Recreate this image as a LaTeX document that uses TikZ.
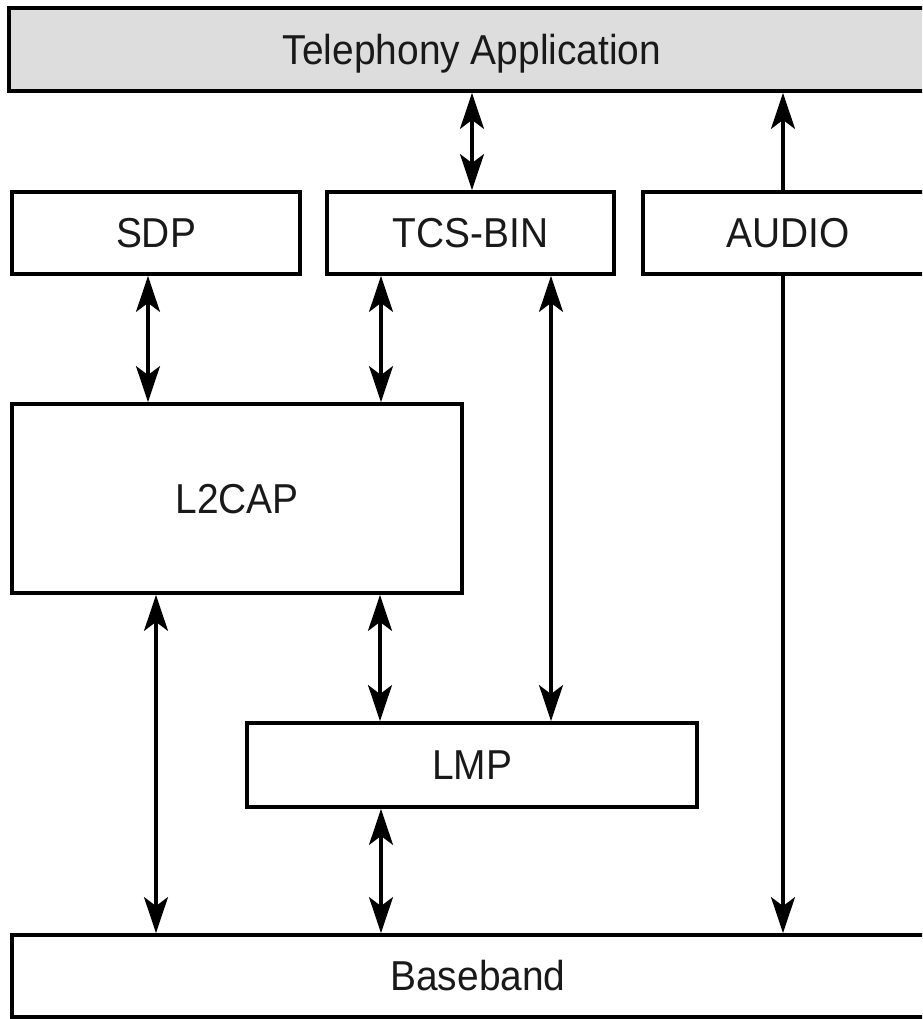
\documentclass[tikz,border=0pt]{standalone}
\usepackage{fontspec}
\setmainfont{Liberation Sans}[FakeStretch=0.93]
\usetikzlibrary{arrows.meta}

\definecolor{telgray}{RGB}{221,221,221}
\newcommand{\lbl}{\fontsize{23.8}{28}\selectfont}

\tikzset{
	blk/.style={draw, line width=2.2pt, inner sep=0pt, text=black!90, font=\lbl,
		text height=0.6cm, text depth=0pt},
	tip/.style={line width=1.8pt, -{Stealth[length=0.72cm, width=0.48cm, inset=0.18cm]}},
	dbl/.style={line width=1.8pt, {Stealth[length=0.72cm, width=0.48cm, inset=0.18cm]}-{Stealth[length=0.72cm, width=0.48cm, inset=0.18cm]}}
}

\begin{document}
\begin{tikzpicture}
	\useasboundingbox (0,0) rectangle (18.44,20.38);
	\clip (0,0) rectangle (18.44,20.38);
	
	% top row
	\node[blk, fill=telgray, minimum width=18.52cm, minimum height=1.66cm] (tel) at (9.44,19.39) {Telephony Application};
	\node[blk, minimum width=5.76cm, minimum height=1.64cm] (sdp) at (3.12,15.72) {SDP};
	\node[blk, minimum width=5.74cm, minimum height=1.64cm] (tcs) at (9.41,15.72) {TCS-BIN};
	\node[blk, minimum width=5.8cm, minimum height=1.64cm] (audio) at (15.76,15.72) {AUDIO};
	
	% lower layers
	\node[blk, minimum width=9cm, minimum height=3.78cm] (l2cap) at (4.74,10.41) {L2CAP};
	\node[blk, minimum width=9cm, minimum height=1.68cm] (lmp) at (9.44,5.08) {LMP};
	\node[blk, minimum width=18.64cm, minimum height=1.64cm] (base) at (9.56,0.86) {Baseband};
	
	% links
	\draw[dbl] (tel.south) -- (tel.south |- tcs.north);
	\draw[tip] (15.66,0 |- audio.north) -- (15.66,0 |- tel.south);
	\draw[dbl] (2.96,0 |- sdp.south) -- (2.96,0 |- l2cap.north);
	\draw[dbl] (7.62,0 |- tcs.south) -- (7.62,0 |- l2cap.north);
	\draw[dbl] (11.02,0 |- tcs.south) -- (11.02,0 |- lmp.north);
	\draw[tip] (15.66,0 |- audio.south) -- (15.66,0 |- base.north);
	\draw[dbl] (3.12,0 |- l2cap.south) -- (3.12,0 |- base.north);
	\draw[dbl] (7.6,0 |- l2cap.south) -- (7.6,0 |- lmp.north);
	\draw[dbl] (7.62,0 |- lmp.south) -- (7.62,0 |- base.north);
\end{tikzpicture}
\end{document}
